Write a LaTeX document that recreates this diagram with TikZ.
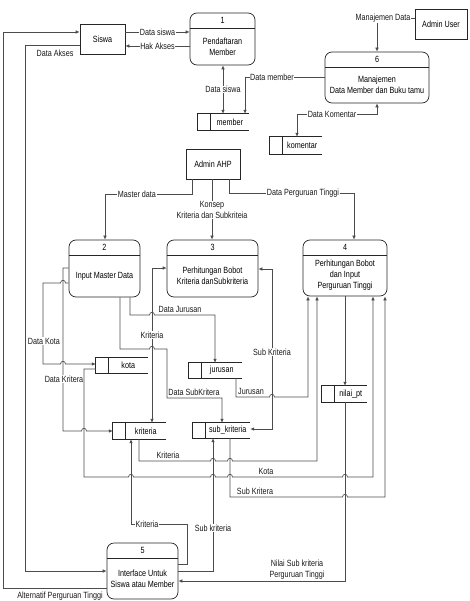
\documentclass[tikz,border=0pt]{standalone}
\usepackage{fontspec}
\setmainfont{Liberation Sans}[FakeStretch=0.8]
\usetikzlibrary{arrows.meta}
\tikzset{
 box/.style={draw=black!85, line width=0.7pt, inner sep=0pt},
 proc/.style={box, rounded corners=7pt},
 dsnode/.style={inner sep=0pt},
 dsline/.style={draw=black!85, line width=0.7pt},
 conn/.style={draw=black!70, line width=0.7pt},
 arr/.style={conn, -{Latex[length=4pt,width=3.6pt]}},
 arrb/.style={conn, {Latex[length=4pt,width=3.6pt]}-{Latex[length=4pt,width=3.6pt]}},
 lbl/.style={fill=white, inner sep=0.6pt, text=black!90},
 lbln/.style={inner sep=0.6pt, text=black!90},
 txt/.style={inner sep=0pt, align=center},
 hopr/.style 2 args={insert path={-- ({#1-2.5},#2) .. controls +(0,-3.5) and +(0,-3.5) .. ({#1+2.5},#2)}},
 hopl/.style 2 args={insert path={-- ({#1+2.5},#2) .. controls +(0,-3.5) and +(0,-3.5) .. ({#1-2.5},#2)}},
 every node/.append style={font=\fontsize{9}{11}\selectfont},
}
\newcommand{\mkproc}[7]{%
 \node[proc, minimum width={#4-#2}, minimum height={#5-#3}] (#1) at ({(#2+#4)/2},{(#3+#5)/2}) {};
 \draw[box] ({#2},{#3+15}) -- ({#4},{#3+15});
 \node[txt] (#1n) at ({(#2+#4)/2},{#3+7.5}) {#6};
 \node[txt] (#1t) at ({(#2+#4)/2},{(#3+15+#5)/2}) {#7};
}
\newcommand{\mkstore}[6]{%
 \node[dsnode, minimum width={#4-#2}, minimum height={#5-#3}] (#1) at ({(#2+#4)/2},{(#3+#5)/2}) {};
 \draw[dsline] (#1.north east) -- (#1.north west) -- (#1.south west) -- (#1.south east);
 \draw[dsline] ([xshift=12.5pt]#1.north west) -- ([xshift=12.5pt]#1.south west);
 \node[txt] (#1t) at ({(#2+12.5+#4)/2},{(#3+#5)/2}) {#6};
}
\begin{document}
\begin{tikzpicture}[x=1pt,y=-1pt]
\useasboundingbox (0,0) rectangle (470,601);
% external entities
\node[box, minimum width=45pt, minimum height=30pt] (siswa) at (102.5,39) {Siswa};
\node[box, minimum width=52pt, minimum height=30pt] (admuser) at (441,24) {Admin User};
\node[box, minimum width=54pt, minimum height=30pt] (adminahp) at (213,164) {Admin AHP};
% processes
\mkproc{p1}{190}{13}{255}{65}{1}{Pendaftaran\\Member}
\mkproc{p6}{325}{52}{429}{103}{6}{Manajemen\\Data Member dan Buku tamu}
\mkproc{p2}{69}{240}{140}{297}{2}{Input Master Data}
\mkproc{p3}{167}{240}{258}{297}{3}{Perhitungan Bobot\\Kriteria danSubkriteria}
\mkproc{p4}{303}{240}{387}{296}{4}{Perhitungan Bobot\\dan Input\\Perguruan Tinggi}
\mkproc{p5}{107}{543}{178}{599}{5}{Interface Untuk\\Siswa atau Member}
% data stores
\mkstore{member}{198}{114}{249}{130}{member}
\mkstore{komentar}{270}{137}{322}{154}{komentar}
\mkstore{kota}{96}{358}{148}{373}{kota}
\mkstore{jurusan}{189}{363}{242}{378}{jurusan}
\mkstore{kriteria}{113}{423}{166}{439}{kriteria}
\mkstore{subkrit}{193}{423}{250}{438}{sub\_kriteria}
\mkstore{nilai}{322}{386}{367}{402}{nilai\_pt}
% connectors
\draw[arr] (siswa.east |- 0,32) -- (p1.west |- 0,32) node[lbl, midway] (l1) {Data siswa};
\draw[arr] (p1.west |- 0,46) -- (siswa.east |- 0,46) node[lbl, midway] (l2) {Hak Akses};
\draw[arr] (siswa.west |- 0,45) -- (25,45) -- (25,571) -- (p5.west |- 0,571);
\node[lbln] (l3) at (55,53) {Data Akses};
\draw[arr] (p5.west |- 0,588) -- (3,588) -- (3,32) -- (siswa.west |- 0,32);
\node[lbln] (l4) at (60,596) {Alternatif Perguruan Tinggi};
\draw[arrb] (p1.south -| 223,0) -- (member.north -| 223,0) node[lbl, midway] (l5) {Data siswa};
\draw[arr] (p6.west |- 0,77) -- (245,77) -- (member.north -| 245,0);
\node[lbl] (l6) at (272,77) {Data member};
\draw[arr] (admuser.west |- 0,18) -- (377,18) -- (p6.north -| 377,0);
\node[lbl] (l7) at (383,18) {Manajemen Data};
\draw[arrb] (p6.south -| 377,0) -- (377,114) -- (297,114) -- (komentar.north -| 297,0);
\node[lbl] (l8) at (332,114) {Data Komentar};
\draw[arr] (adminahp.south -| 192,0) -- (192,194) -- (105,194) -- (p2.north -| 105,0);
\node[lbl] (l9) at (137,194) {Master data};
\draw[arr] (adminahp.south -| 212,0) -- (p3.north -| 212,0);
\node[lbl, align=center] (l10) at (212,210) {Konsep\\Kriteria dan Subkriteia};
\draw[arr] (adminahp.south -| 229,0) -- (229,193) -- (354,193) -- (p4.north -| 354,0);
\node[lbl] (l11) at (303,193) {Data Perguruan Tinggi};
\draw[arr] (p2.west |- 0,283) [hopl={63}{283}] -- (43,283) -- (43,364) [hopr={63}{364}] -- (kota.west |- 0,364);
\node[lbl] (l12) at (44,341) {Data Kota};
\draw[arr] (p2.west |- 0,268) -- (63,268) -- (63,431) [hopr={84}{431}] -- (kriteria.west |- 0,431);
\node[lbl] (l13) at (64,379) {Data Kritera};
\draw[arr] (p2.south -| 130,0) -- (130,315) [hopr={152}{315}] -- (215,315) -- (jurusan.north -| 215,0);
\node[lbln, anchor=south] (l14) at (180,313) {Data Jurusan};
\draw[arr] (p2.south -| 120,0) -- (120,349) [hopr={152}{349}] -- (167,349) -- (167,398) -- (222,398) -- (subkrit.north -| 222,0);
\node[lbln, anchor=south] (l15) at (194,396) {Data SubKritera};
\draw[arrb] (p3.west |- 0,268) -- (152,268) -- (kriteria.north -| 152,0);
\node[lbl] (l16) at (152,335) {Kriteria};
\draw[arrb] (p3.east |- 0,269) -- (272,269) -- (272,429) -- (subkrit.east |- 0,429);
\node[lbl] (l17) at (272,352) {Sub Kriteria};
\draw[arr] (jurusan.south -| 236,0) -- (236,397) [hopr={272}{397}] -- (308,397) -- (p4.south -| 308,0);
\node[lbln, anchor=south] (l18) at (251,395) {Jurusan};
\draw[arr] (p4.south -| 345,0) -- (nilai.north -| 345,0);
\draw[arr] (kriteria.south -| 139,0) -- (139,461) [hopr={213}{461}] [hopr={230}{461}] -- (317,461) -- (p4.south -| 317,0);
\node[lbln, anchor=south] (l20) at (168,459) {Kriteria};
\draw[arr] (kota.west |- 0,369) -- (84,369) -- (84,477) [hopr={131}{477}] [hopr={213}{477}] [hopr={230}{477}] [hopr={345}{477}] -- (373,477) -- (p4.south -| 373,0);
\node[lbln, anchor=south] (l21) at (266,475) {Kota};
\draw[arr] (subkrit.south -| 230,0) -- (230,497) [hopr={345}{497}] -- (385,497) -- (p4.south -| 385,0);
\node[lbln, anchor=south] (l22) at (255,495) {Sub Kritera};
\draw[arr] (nilai.south -| 345,0) -- (345,581) -- (p5.east |- 0,581);
\node[lbln, anchor=south, align=center] (l23) at (297,580) {Nilai Sub kriteria\\Perguruan Tinggi};
\draw[arr] (p5.east |- 0,564) -- (187,564) -- (187,524) -- (131,524) -- (kriteria.south -| 131,0);
\node[lbl] (l24) at (147,524) {Kriteria};
\draw[arr] (p5.east |- 0,571) -- (213,571) -- (subkrit.south -| 213,0);
\node[lbl] (l25) at (213,528) {Sub kriteria};
\end{tikzpicture}
\end{document}
